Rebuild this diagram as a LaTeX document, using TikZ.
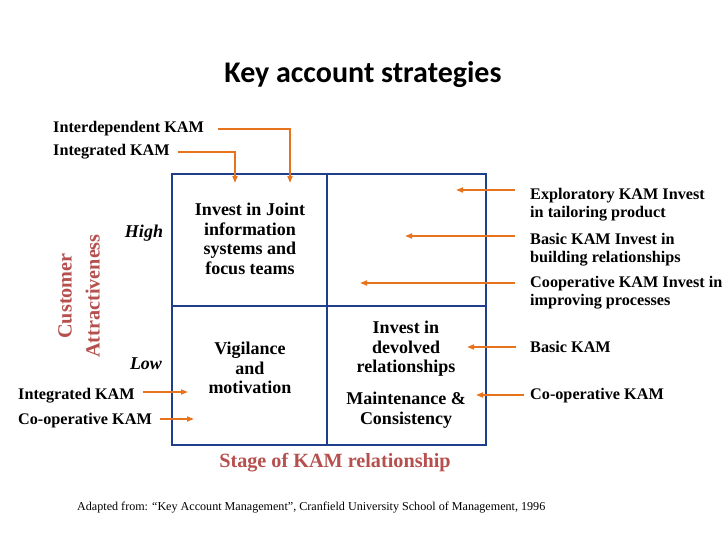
\documentclass[tikz,border=0pt]{standalone}
\usepackage{fontspec}
\setmainfont{Liberation Serif}
\newfontfamily\titlefont{Carlito}
\usetikzlibrary{arrows.meta,positioning}
\definecolor{gridblue}{HTML}{1F3F8C}
\definecolor{kamorange}{HTML}{E8731E}
\definecolor{axisred}{HTML}{B5504E}
\begin{document}
\begin{tikzpicture}[x=1pt,y=-1pt,
  lbl/.style={font=\fontsize{16.2}{18}\selectfont\bfseries,inner sep=0pt,anchor=west},
  cell/.style={font=\fontsize{18}{19.5}\selectfont\bfseries,align=center,inner sep=0pt},
  arr/.style={kamorange,line width=1.6pt,-{Triangle[length=7pt,width=5pt]}},
  axis/.style={axisred,font=\fontsize{20.2}{28}\selectfont\bfseries,inner sep=0pt}]
  \useasboundingbox (0,0) rectangle (728,546);
  \node[font=\fontsize{30}{34}\selectfont\titlefont\bfseries] (title) at (363,75) {Key account strategies};
  % grid
  \draw[gridblue,line width=2pt] (172,174) rectangle (486,445);
  \draw[gridblue,line width=1.2pt] (327,174) -- (327,445) (172,306) -- (486,306);
  % cells
  \node[cell] (joint) at (250,239) {Invest in Joint\\information\\systems and\\focus teams};
  \node[cell] (vigil) at (250,368) {Vigilance\\and\\motivation};
  \node[cell] (devolved) at (406,349) {Invest in\\devolved\\relationships};
  \node[cell] (maint) at (406,410) {Maintenance \&\\Consistency};
  \node[font=\fontsize{18}{20}\selectfont\bfseries\itshape] (high) at (144,233) {High};
  \node[font=\fontsize{18}{20}\selectfont\bfseries\itshape] (low) at (146,364) {Low};
  \node[axis,rotate=90,align=center] (attr) at (79,296) {Customer\\Attractiveness};
  \node[axis] (stage) at (335,463) {Stage of KAM relationship};
  \node[font=\fontsize{12.1}{14}\selectfont,anchor=west,inner sep=0pt] (src) at (77,508) {Adapted from: ``Key Account Management'', Cranfield University School of Management, 1996};
  % labels
  \node[lbl] (interdep) at (53,129) {Interdependent KAM};
  \node[lbl] (integtop) at (53,152) {Integrated KAM};
  \node[lbl,align=left] (explor) at (530,205) {Exploratory KAM Invest\\in tailoring product};
  \node[lbl,align=left] (basicinv) at (530,250) {Basic KAM Invest in\\building relationships};
  \node[lbl,align=left] (coopinv) at (530,293) {Cooperative KAM Invest in\\improving processes};
  \node[lbl] (basic) at (530,347) {Basic KAM};
  \node[lbl] (coop) at (530,396) {Co-operative KAM};
  \node[lbl] (integlow) at (18,396) {Integrated KAM};
  \node[lbl] (cooplow) at (18,421) {Co-operative KAM};
  % arrow ends
  \coordinate (e1) at (290,183);
  \coordinate (e2) at (235,183);
  \coordinate (e3) at (456,190);
  \coordinate (e4) at (405,236);
  \coordinate (e5) at (360,283);
  \coordinate (e6) at (467,347);
  \coordinate (e7) at (476,395);
  \coordinate (e8) at (188,392);
  \coordinate (e9) at (194,419);
  \draw[arr] ([xshift=14pt]interdep.east) -| (e1);
  \draw[arr] ([xshift=8pt]integtop.east) -| (e2);
  \draw[arr] ([xshift=-15pt]explor.west |- e3) -- (e3);
  \draw[arr] ([xshift=-15pt]basicinv.west |- e4) -- (e4);
  \draw[arr] ([xshift=-15pt]coopinv.west |- e5) -- (e5);
  \draw[arr] ([xshift=-14pt]basic.west |- e6) -- (e6);
  \draw[arr] ([xshift=-6pt]coop.west |- e7) -- (e7);
  \draw[arr] ([xshift=8pt]integlow.east |- e8) -- (e8);
  \draw[arr] ([xshift=8pt]cooplow.east |- e9) -- (e9);
\end{tikzpicture}
\end{document}
